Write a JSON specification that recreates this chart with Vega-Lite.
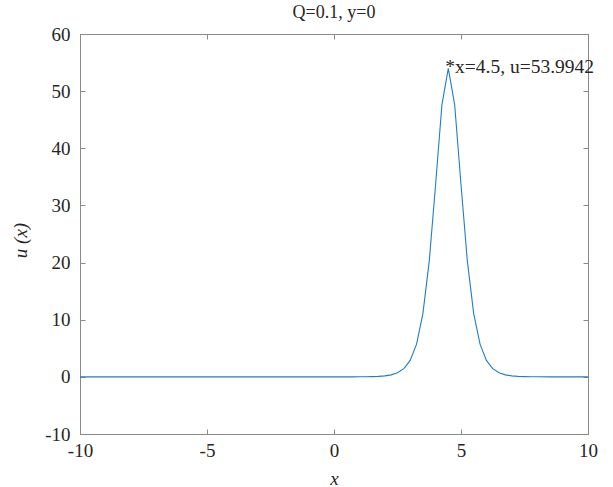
{
  "$schema": "https://vega.github.io/schema/vega-lite/v6.json",
  "width": 508,
  "height": 400,
  "autosize": {"type": "none"},
  "padding": {"left": 80, "top": 34, "right": 25, "bottom": 53},
  "background": "white",
  "title": {"text": "Q=0.1, y=0", "font": "Liberation Serif", "fontSize": 18, "fontWeight": "normal", "color": "#262626", "offset": 3},
  "datasets": {
    "curve": [
      {"x": -10, "u": 0}, {"x": -5, "u": 0}, {"x": 0, "u": 0.001}, {"x": 0.5, "u": 0.003},
      {"x": 0.75, "u": 0.005}, {"x": 1.0, "u": 0.01}, {"x": 1.25, "u": 0.02}, {"x": 1.5, "u": 0.041},
      {"x": 1.75, "u": 0.083}, {"x": 2.0, "u": 0.169}, {"x": 2.25, "u": 0.346}, {"x": 2.5, "u": 0.704},
      {"x": 2.75, "u": 1.43}, {"x": 3.0, "u": 2.88}, {"x": 3.25, "u": 5.73}, {"x": 3.5, "u": 11.07},
      {"x": 3.75, "u": 20.26}, {"x": 4.0, "u": 33.66}, {"x": 4.25, "u": 47.65}, {"x": 4.5, "u": 53.9942},
      {"x": 4.75, "u": 47.65}, {"x": 5.0, "u": 33.66}, {"x": 5.25, "u": 20.26}, {"x": 5.5, "u": 11.07},
      {"x": 5.75, "u": 5.73}, {"x": 6.0, "u": 2.88}, {"x": 6.25, "u": 1.43}, {"x": 6.5, "u": 0.704},
      {"x": 6.75, "u": 0.346}, {"x": 7.0, "u": 0.169}, {"x": 7.25, "u": 0.083}, {"x": 7.5, "u": 0.041},
      {"x": 7.75, "u": 0.02}, {"x": 8.0, "u": 0.01}, {"x": 8.5, "u": 0.003}, {"x": 10, "u": 0}
    ],
    "peak": [{"x": 4.5, "u": 53.9942, "label": "*x=4.5, u=53.9942"}]
  },
  "config": {
    "view": {"stroke": "#8a8a8a", "strokeWidth": 1},
    "axis": {
      "grid": false,
      "domainColor": "#8a8a8a",
      "tickColor": "#8a8a8a",
      "tickSize": -5,
      "labelFont": "Liberation Serif",
      "labelFontSize": 19,
      "labelColor": "#262626",
      "labelExpr": "'' + datum.value",
      "titleFont": "Liberation Serif",
      "titleFontSize": 19,
      "titleFontWeight": "normal",
      "titleFontStyle": "italic",
      "titleColor": "#262626"
    }
  },
  "resolve": {"axis": {"x": "independent", "y": "independent"}},
  "layer": [
    {
      "data": {"name": "curve"},
      "mark": {"type": "line", "color": "#1f7fc4", "strokeWidth": 1.1, "clip": true},
      "encoding": {
        "x": {"field": "x", "type": "quantitative", "scale": {"domain": [-10, 10], "nice": false, "zero": false},
              "axis": {"orient": "bottom", "values": [-10, -5, 0, 5, 10], "title": "x", "labelPadding": 12, "titlePadding": 9, "labelFlush": false}},
        "y": {"field": "u", "type": "quantitative", "scale": {"domain": [-10, 60], "nice": false, "zero": false},
              "axis": {"orient": "left", "values": [-10, 0, 10, 20, 30, 40, 50, 60], "title": "u (x)", "labelPadding": 15, "titlePadding": 14, "titleY": 206, "labelFlush": false}}
      }
    },
    {
      "data": {"name": "curve"},
      "mark": {"type": "line", "opacity": 0},
      "encoding": {
        "x": {"field": "x", "type": "quantitative", "scale": {"domain": [-10, 10], "nice": false, "zero": false},
              "axis": {"orient": "top", "values": [-10, -5, 0, 5, 10], "title": null, "labels": false}},
        "y": {"field": "u", "type": "quantitative", "scale": {"domain": [-10, 60], "nice": false, "zero": false},
              "axis": {"orient": "right", "values": [-10, 0, 10, 20, 30, 40, 50, 60], "title": null, "labels": false}}
      }
    },
    {
      "data": {"name": "peak"},
      "mark": {"type": "text", "align": "left", "baseline": "middle", "dx": -3, "dy": -1, "font": "Liberation Serif", "fontSize": 19.5, "color": "#262626", "clip": false},
      "encoding": {
        "x": {"field": "x", "type": "quantitative", "axis": null},
        "y": {"field": "u", "type": "quantitative", "axis": null},
        "text": {"field": "label"}
      }
    }
  ]
}
